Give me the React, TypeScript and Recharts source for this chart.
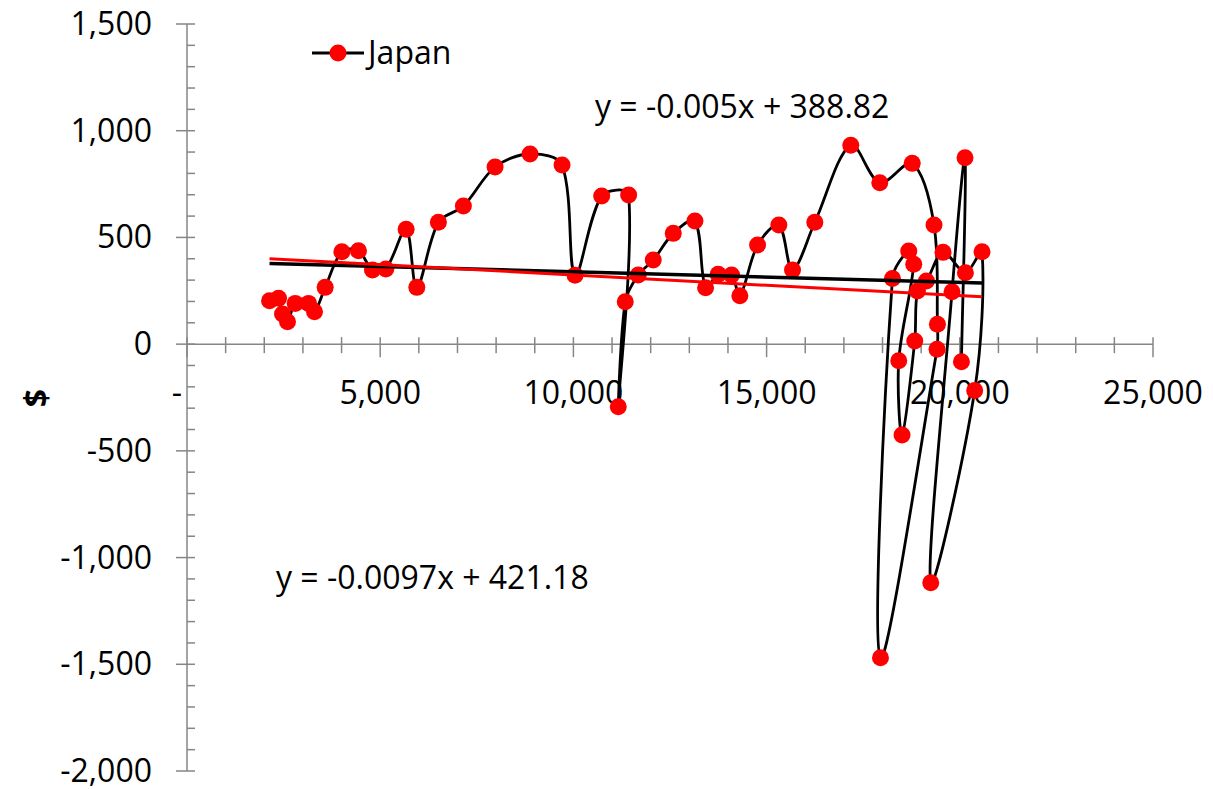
import React from 'react';
import { ScatterChart, Scatter, XAxis, YAxis, ReferenceLine, ReferenceDot } from 'recharts';

// ---------- data ----------
const seriesName = 'Japan';
const xValues = [
  2136, 2369, 2472, 2601, 2801, 3145, 3300, 3576, 4008, 4438,
  4800, 5146, 5671, 5948, 6506, 7153, 7973, 8878, 9706, 10042,
  10732, 11430, 11161, 11342, 11678, 12066, 12584, 13145, 13421, 13747,
  14094, 14308, 14766, 15317, 15671, 16248, 17179, 17929, 18769, 19333,
  19421, 19411, 17947, 18257, 18679, 18808, 18420, 18505, 18834, 18904,
  19137, 19566, 20145, 20575, 20385, 19248, 19799, 20135, 20042,
];
const yValues = [
  203, 215, 141, 105, 191, 191, 152, 266, 433, 438,
  347, 352, 538, 266, 571, 647, 830, 891, 839, 323,
  694, 699, -293, 199, 324, 394, 519, 577, 264, 328,
  324, 227, 464, 558, 347, 571, 932, 756, 847, 558,
  93, -24, -1469, 308, 436, 374, -78, -426, 15, 249,
  296, 430, 335, 433, -217, -1118, 246, 873, -82,
];

const xLabelValues = [0, 5000, 10000, 15000, 20000, 25000];
const yLabelValues = [-2000, -1500, -1000, -500, 0, 500, 1000, 1500];
const xMinorStep = 1000;
const yMinorStep = 100;

const trendSlopes = [-0.005, -0.0097];
const trendIntercepts = [388.82, 421.18];
const trendColors = ['#000000', '#FF0000'];
const trendWidths = [3.5, 3];
const trendLabels = ['y = -0.005x + 388.82', 'y = -0.0097x + 421.18'];

// ---------- derived ----------
const data = xValues.map((x, i) => ({ x, y: yValues[i] }));
const xMin = Math.min(...xValues);
const xMax = Math.max(...xValues);
const trendData = trendSlopes.map((m, i) => [
  { x: xMin, y: m * xMin + trendIntercepts[i] },
  { x: xMax, y: m * xMax + trendIntercepts[i] },
]);
const xDomain: [number, number] = [xLabelValues[0], xLabelValues[xLabelValues.length - 1]];
const yDomain: [number, number] = [yLabelValues[0], yLabelValues[yLabelValues.length - 1]];
const xTicks: number[] = [];
for (let v = xDomain[0]; v <= xDomain[1]; v += xMinorStep) xTicks.push(v);
const yTicks: number[] = [];
for (let v = yDomain[0]; v <= yDomain[1]; v += yMinorStep) yTicks.push(v);

const FONT = "'Open Sans', sans-serif";
const AXIS = '#868686';
const FS = 32;

const fmt = (v: number) => v.toLocaleString('en-US');

const dist = (a: any, b: any) => Math.hypot(b.x - a.x, b.y - a.y);

// smooth curve through the points (chord-weighted Catmull-Rom, like spreadsheet smoothing)
function smoothPath(pts: { x: number; y: number }[]) {
  if (!pts || pts.length === 0) return '';
  let d = `M${pts[0].x},${pts[0].y}`;
  for (let i = 0; i < pts.length - 1; i++) {
    const p0 = pts[i - 1] || pts[i];
    const p1 = pts[i];
    const p2 = pts[i + 1];
    const p3 = pts[i + 2] || p2;
    const d01 = dist(p0, p1);
    const d12 = dist(p1, p2);
    const d23 = dist(p2, p3);
    const f1 = d01 + d12 > 0 ? d12 / (d01 + d12) / 3 : 0;
    const f2 = d12 + d23 > 0 ? d12 / (d12 + d23) / 3 : 0;
    const c1x = p1.x + (p2.x - p0.x) * f1;
    const c1y = p1.y + (p2.y - p0.y) * f1;
    const c2x = p2.x - (p3.x - p1.x) * f2;
    const c2y = p2.y - (p3.y - p1.y) * f2;
    d += ` C${c1x},${c1y} ${c2x},${c2y} ${p2.x},${p2.y}`;
  }
  return d;
}

const SmoothLine = (props: any) => (
  <path d={smoothPath(props.points)} fill="none" stroke="#000" strokeWidth={2.8} />
);

const makeTrendLine = (color: string, w: number) => (props: any) => {
  const pts = props.points || [];
  if (pts.length < 2) return <g />;
  return (
    <line x1={pts[0].x} y1={pts[0].y} x2={pts[pts.length - 1].x} y2={pts[pts.length - 1].y} stroke={color} strokeWidth={w} />
  );
};

const RedDot = (props: any) => <circle cx={props.cx} cy={props.cy} r={8.5} fill="#FF0000" />;
const NoDot = () => <g />;

const YTick = (props: any) => {
  const { x, y, payload } = props;
  const v = payload.value;
  const major = v % 500 === 0;
  return (
    <g>
      <line x1={major ? x - 11 : x} x2={x + 8} y1={y} y2={y} stroke={AXIS} strokeWidth={1.5} />
      {major && (
        <text x={x - 35} y={y + 11} textAnchor="end" fontSize={FS} fontFamily={FONT} fill="#000">
          {fmt(v)}
        </text>
      )}
    </g>
  );
};

const makeXTick = (v: number) => (p: any) => {
  const { cx, cy } = p;
  const major = v % 5000 === 0;
  return (
    <g>
      <line x1={cx} x2={cx} y1={cy - 7} y2={cy + (major ? 13 : 9)} stroke={AXIS} strokeWidth={1.5} />
      {major && (
        <text x={v === 0 ? cx - 10 : cx} y={cy + 60} textAnchor="middle" fontSize={FS} fontFamily={FONT} fill="#000">
          {v === 0 ? '-' : fmt(v)}
        </text>
      )}
    </g>
  );
};

export default function App() {
  return (
    <div style={{ position: 'absolute', left: 0, top: 0, width: 1213, height: 789, background: '#fff', overflow: 'hidden' }}>
      <ScatterChart width={1213} height={789} margin={{ top: 24, right: 60, bottom: 18, left: 0 }}>
        <XAxis type="number" dataKey="x" domain={xDomain} hide allowDataOverflow />
        <YAxis
          type="number"
          dataKey="y"
          domain={yDomain}
          ticks={yTicks}
          interval={0}
          width={187}
          tickSize={0}
          tickMargin={0}
          tickLine={false}
          axisLine={{ stroke: AXIS, strokeWidth: 1.5 }}
          tick={<YTick />}
          allowDataOverflow
        />
        <ReferenceLine y={0} stroke={AXIS} strokeWidth={1.5} />
        {xTicks.map((v) => (
          <ReferenceDot key={v} x={v} y={0} r={1} shape={makeXTick(v)} />
        ))}
        <Scatter
          name={seriesName}
          data={data}
          line={SmoothLine}
          lineType="joint"
          shape={RedDot}
          isAnimationActive={false}
        />
        {trendData.map((td, i) => (
          <Scatter
            key={i}
            data={td}
            line={makeTrendLine(trendColors[i], trendWidths[i])}
            lineType="joint"
            shape={NoDot}
            legendType="none"
            isAnimationActive={false}
          />
        ))}
      </ScatterChart>
      <svg width={1213} height={789} style={{ position: 'absolute', left: 0, top: 0, pointerEvents: 'none' }}>
        <line x1={312} x2={364} y1={53} y2={53} stroke="#000" strokeWidth={2.8} />
        <circle cx={338} cy={53} r={8.5} fill="#FF0000" />
        <text x={368} y={64} fontSize={FS} fontFamily={FONT} fill="#000">{seriesName}</text>
        <text x={595} y={118} fontSize={FS} fontFamily={FONT} fill="#000">{trendLabels[0]}</text>
        <text x={276} y={589} fontSize={FS} fontFamily={FONT} fill="#000">{trendLabels[1]}</text>
        <text
          x={35}
          y={398}
          transform="rotate(-90 35 398)"
          textAnchor="middle"
          dominantBaseline="central"
          fontSize={FS}
          fontWeight="bold"
          fontFamily={FONT}
          fill="#000"
        >
          $
        </text>
      </svg>
    </div>
  );
}
